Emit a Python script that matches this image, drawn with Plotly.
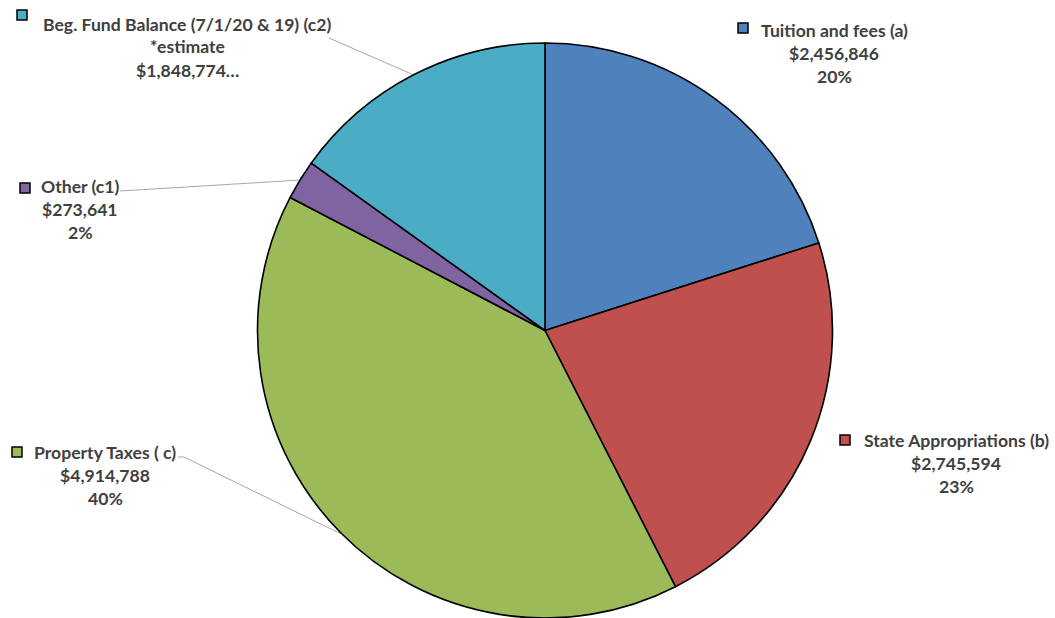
import math
import plotly.graph_objects as go

# ---- data ----
categories = ["Tuition and fees (a)", "State Appropriations (b)", "Property Taxes ( c)",
              "Other (c1)", "Beg. Fund Balance (7/1/20 & 19) (c2)"]
values = [2456846, 2745594, 4914788, 273641, 1848774]
pct_labels = ["20%", "23%", "40%", "2%", None]
extra_line = [None, None, None, None, "*estimate"]
truncated = [False, False, False, False, True]
colors = ["#4F81BD", "#C0504D", "#9BBB59", "#8064A2", "#4BACC6"]

# ---- layout constants (pixels) ----
W, H = 1055, 618
TOP = 43
CX, R = 545, 288
CY = TOP + R
TEXT_COLOR = "#404040"
FONT = "Lato"
FS = 17.6
LINE_H = 23

def px(x):
    return x / W

def py(y):
    return (H - y) / (H - TOP)

# label block positions: (text center x, first line y, marker left x, marker center y, leader)
label_pos = [
    (834, 30, 738, 28, False),
    (956, 440, 840, 440, False),
    (105, 452, 12, 452, True),
    (80, 186, 20, 188, True),
    (187, 24, 17, 15, True),
]
# leader start points (end of first text line)
leader_start = [None, None, (178, 457), (120, 191), (329, 38)]

fig = go.Figure(go.Pie(
    labels=categories,
    values=values,
    sort=False,
    direction="clockwise",
    rotation=0,
    marker=dict(colors=colors, line=dict(color="#000000", width=1.6)),
    textinfo="none",
    hoverinfo="label+value+percent",
    showlegend=False,
    domain=dict(x=[px(CX - R), px(CX + R)], y=[0, 1]),
))

annotations = []
shapes = []
total = sum(values)
cum = 0.0
for i, cat in enumerate(categories):
    frac = values[i] / total
    mid = (cum + frac / 2) * 2 * math.pi
    cum += frac
    tx, ty, mx, my, has_leader = label_pos[i]
    lines = [cat]
    if extra_line[i]:
        lines.append(extra_line[i])
    val_txt = "${:,}".format(values[i]) + ("…" if truncated[i] else "")
    lines.append(val_txt)
    if pct_labels[i]:
        lines.append(pct_labels[i])
    for k, line in enumerate(lines):
        annotations.append(dict(
            x=px(tx), y=py(ty + k * LINE_H), xref="paper", yref="paper",
            text="<b>" + line + "</b>", showarrow=False,
            xanchor="center", yanchor="middle",
            font=dict(family=FONT, size=FS, color=TEXT_COLOR),
        ))
    # legend key square
    s = 10
    shapes.append(dict(
        type="rect", xref="paper", yref="paper",
        x0=px(mx), x1=px(mx + s), y0=py(my - s / 2), y1=py(my + s / 2),
        fillcolor=colors[i], line=dict(color="#000000", width=1.5),
    ))
    if has_leader:
        ex = CX + R * math.sin(mid)
        ey = CY - R * math.cos(mid)
        sx, sy = leader_start[i]
        pts = [(sx, sy)]
        if i == 2:
            pts.append((sx + 6, sy))
        pts.append((ex, ey))
        for a, b in zip(pts[:-1], pts[1:]):
            shapes.append(dict(
                type="line", xref="paper", yref="paper",
                x0=px(a[0]), y0=py(a[1]), x1=px(b[0]), y1=py(b[1]),
                line=dict(color="#A6A6A6", width=1),
                layer="below",
            ))

fig.update_layout(
    width=W, height=H,
    margin=dict(l=0, r=0, t=TOP, b=0, pad=0),
    paper_bgcolor="#FFFFFF",
    plot_bgcolor="#FFFFFF",
    annotations=annotations,
    shapes=shapes,
)

fig.write_html("out.html", config={"displayModeBar": False})

# remove the browser's default page margin so the figure sits at (0, 0)
with open("out.html", encoding="utf-8") as f:
    html = f.read()
html = html.replace("<head>", "<head><style>html,body{margin:0;padding:0;overflow:hidden;}</style>", 1)
with open("out.html", "w", encoding="utf-8") as f:
    f.write(html)
